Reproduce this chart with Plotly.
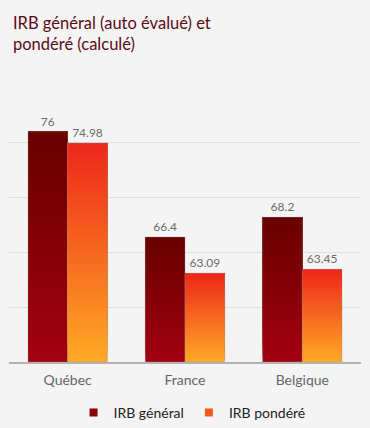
import plotly.graph_objects as go

categories = ["Québec", "France", "Belgique"]
irb_general = [76, 66.4, 68.2]
irb_pondere = [74.98, 63.09, 63.45]
series_names = ["IRB général", "IRB pondéré"]

AXIS_MIN = 55
AXIS_MAX = 80
N_SEG = 40

def lerp(c1, c2, t):
    return "rgb(%d,%d,%d)" % tuple(round(a + (b - a) * t) for a, b in zip(c1, c2))

grad = {
    "g": ((163, 0, 16), (104, 0, 0)),      # bottom, top
    "p": ((255, 168, 38), (238, 40, 26)),
}

fig = go.Figure()

def add_series(values, key, name, legend_color):
    bottom, top = grad[key]
    # nested bars: each one starts higher and reaches the top, drawn over the previous
    for k in range(N_SEG):
        t = k / (N_SEG - 1)
        base = [AXIS_MIN + k * (v - AXIS_MIN) / N_SEG for v in values]
        height = [v - b for v, b in zip(values, base)]
        fig.add_trace(go.Bar(
            x=categories, y=height, base=base, offsetgroup=key,
            marker=dict(color=lerp(bottom, top, t), line=dict(width=0)),
            showlegend=False, hoverinfo="skip"))
    # outline + labels
    fig.add_trace(go.Bar(
        x=categories, y=[v - AXIS_MIN for v in values], base=[AXIS_MIN] * len(values),
        offsetgroup=key, text=[str(v) for v in values], textposition="outside",
        textfont=dict(size=12, color="#6b6b6b", family="Lato"),
        marker=dict(color="rgba(0,0,0,0)", line=dict(width=0.6, color="rgba(140,140,140,0.6)")),
        showlegend=False, cliponaxis=False, name=name))
    fig.add_trace(go.Scatter(
        x=[None], y=[None], mode="markers", name=name,
        marker=dict(symbol="square", size=8, color=legend_color)))

add_series(irb_general, "g", series_names[0], "#8b0000")
add_series(irb_pondere, "p", series_names[1], "#f05a20")

fig.update_layout(
    width=370, height=428,
    margin=dict(l=9, r=9, t=88, b=66),
    paper_bgcolor="#f4f4f4", plot_bgcolor="#f4f4f4",
    barmode="group", bargap=0.324, bargroupgap=0,
    font=dict(family="Lato", color="#666666"),
    title=dict(text="IRB général (auto évalué) et<br>pondéré (calculé)",
               x=13 / 370, xanchor="left", xref="container",
               y=1 - 29 / 428, yanchor="top", yref="container",
               font=dict(size=16.5, color="#5c0a14", family="Lato")),
    legend=dict(orientation="h", x=0.52, xanchor="center", xref="paper",
                y=1 - 397 / 428, yanchor="top", yref="container",
                font=dict(size=14, color="#222222", family="Lato"),
                itemwidth=30, bgcolor="rgba(0,0,0,0)"),
    showlegend=True,
)
fig.update_xaxes(showline=True, linecolor="#b3b3b3", linewidth=2,
                 tickfont=dict(size=14, color="#666666"), ticks="", showgrid=False,
                 ticklabelstandoff=4)
fig.update_yaxes(range=[AXIS_MIN, AXIS_MAX], dtick=5, showticklabels=False,
                 gridcolor="#dedede", gridwidth=1, zeroline=False)

fig.write_html("out.html")
